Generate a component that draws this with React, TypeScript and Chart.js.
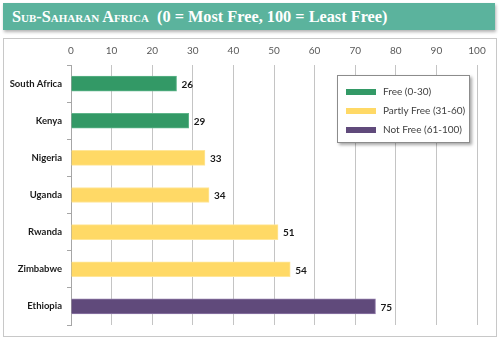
import React, { useEffect, useRef } from "react";
import { Chart, registerables } from "chart.js";

Chart.register(...registerables);

const categories = ["South Africa", "Kenya", "Nigeria", "Uganda", "Rwanda", "Zimbabwe", "Ethiopia"];
const scores = [26, 29, 33, 34, 51, 54, 75];
const statusIndex = [0, 0, 1, 1, 1, 1, 2];
const statusLabels = ["Free (0-30)", "Partly Free (31-60)", "Not Free (61-100)"];
const statusColors = ["#339966", "#ffd966", "#604a7b"];
const statusBorders = ["#5fb58a", "#ffe699", "#8f7aa8"];
const xTicks = [0, 10, 20, 30, 40, 50, 60, 70, 80, 90, 100];

const FONT = "Lato, 'Open Sans', sans-serif";

const valueLabels = {
  id: "valueLabels",
  afterDatasetsDraw(chart: any) {
    const ctx = chart.ctx;
    const meta = chart.getDatasetMeta(0);
    ctx.save();
    ctx.font = `bold 10px ${FONT}`;
    ctx.fillStyle = "#1a1a1a";
    ctx.textBaseline = "middle";
    ctx.textAlign = "left";
    meta.data.forEach((bar: any, i: number) => {
      ctx.fillText(String(scores[i]), bar.x + 5, bar.y + 1);
    });
    ctx.restore();
  },
};

const boxLegend = {
  id: "boxLegend",
  afterDraw(chart: any) {
    const ctx = chart.ctx;
    const x = 337, y = 75, w = 133, h = 68;
    ctx.save();
    ctx.shadowColor = "rgba(0,0,0,0.35)";
    ctx.shadowOffsetX = 2;
    ctx.shadowOffsetY = 2;
    ctx.shadowBlur = 3;
    ctx.fillStyle = "#ffffff";
    ctx.fillRect(x, y, w, h);
    ctx.shadowColor = "transparent";
    ctx.strokeStyle = "#8c8c8c";
    ctx.lineWidth = 1;
    ctx.strokeRect(x + 0.5, y + 0.5, w - 1, h - 1);
    ctx.font = `10px ${FONT}`;
    ctx.textBaseline = "middle";
    ctx.textAlign = "left";
    statusLabels.forEach((lab, i) => {
      const cy = y + 17 + i * 19;
      ctx.fillStyle = statusColors[i];
      ctx.fillRect(x + 9, cy - 3, 30, 6);
      ctx.fillStyle = "#404040";
      ctx.fillText(lab, x + 46, cy);
    });
    ctx.restore();
  },
};

export default function App() {
  const ref = useRef<HTMLCanvasElement>(null);
  useEffect(() => {
    document.body.style.margin = "0";
    const chart = new Chart(ref.current!, {
      type: "bar",
      data: {
        labels: categories,
        datasets: [
          {
            data: scores,
            backgroundColor: statusIndex.map((s) => statusColors[s]),
            borderColor: statusIndex.map((s) => statusBorders[s]),
            borderWidth: 1,
            barThickness: 15,
          },
        ],
      },
      options: {
        indexAxis: "y",
        responsive: false,
        animation: false,
        layout: { padding: { left: 0, right: 23, top: 39, bottom: 15 } },
        plugins: { legend: { display: false }, tooltip: { enabled: false } },
        scales: {
          x: {
            position: "top",
            min: 0,
            max: 100,
            afterBuildTicks: (s: any) => {
              s.ticks = xTicks.map((v) => ({ value: v }));
            },
            afterFit: (s: any) => {
              s.height = 26;
            },
            grid: { color: "#c4c4c4", drawTicks: false },
            border: { display: false },
            ticks: { color: "#595959", font: { family: FONT, size: 10 }, padding: 8 },
          },
          y: {
            afterFit: (s: any) => {
              s.width = 71;
            },
            grid: { drawOnChartArea: false, drawTicks: true, tickLength: 4, color: "#a6a6a6", offset: true },
            border: { display: true, color: "#a6a6a6" },
            ticks: { color: "#1a1a1a", font: { family: FONT, size: 9.5, weight: "bold" }, padding: 5 },
          },
        },
      },
      plugins: [valueLabels, boxLegend],
    });
    return () => chart.destroy();
  }, []);

  return (
    <div style={{ position: "relative", width: 500, height: 340, background: "#fff", overflow: "hidden" }}>
      <div
        style={{
          position: "absolute",
          left: 3,
          top: 3,
          width: 492,
          height: 27,
          background: "#5bb39d",
          boxShadow: "1px 2px 3px rgba(0,0,0,0.3)",
        }}
      >
        <div
          style={{
            position: "absolute",
            left: 9,
            top: 4,
            color: "#fff",
            fontFamily: "'Liberation Serif', 'DejaVu Serif', serif",
            fontWeight: "bold",
            fontSize: 16.3,
            whiteSpace: "nowrap",
          }}
        >
          <span style={{ fontVariant: "small-caps" }}>Sub-Saharan Africa</span>
          <span>&nbsp; (0 = Most Free, 100 = Least Free)</span>
        </div>
      </div>
      <div
        style={{
          position: "absolute",
          left: 3,
          top: 38,
          width: 492,
          height: 297,
          border: "1px solid #c8c8c8",
        }}
      />
      <canvas ref={ref} width={500} height={340} style={{ position: "absolute", left: 0, top: 0 }} />
    </div>
  );
}
